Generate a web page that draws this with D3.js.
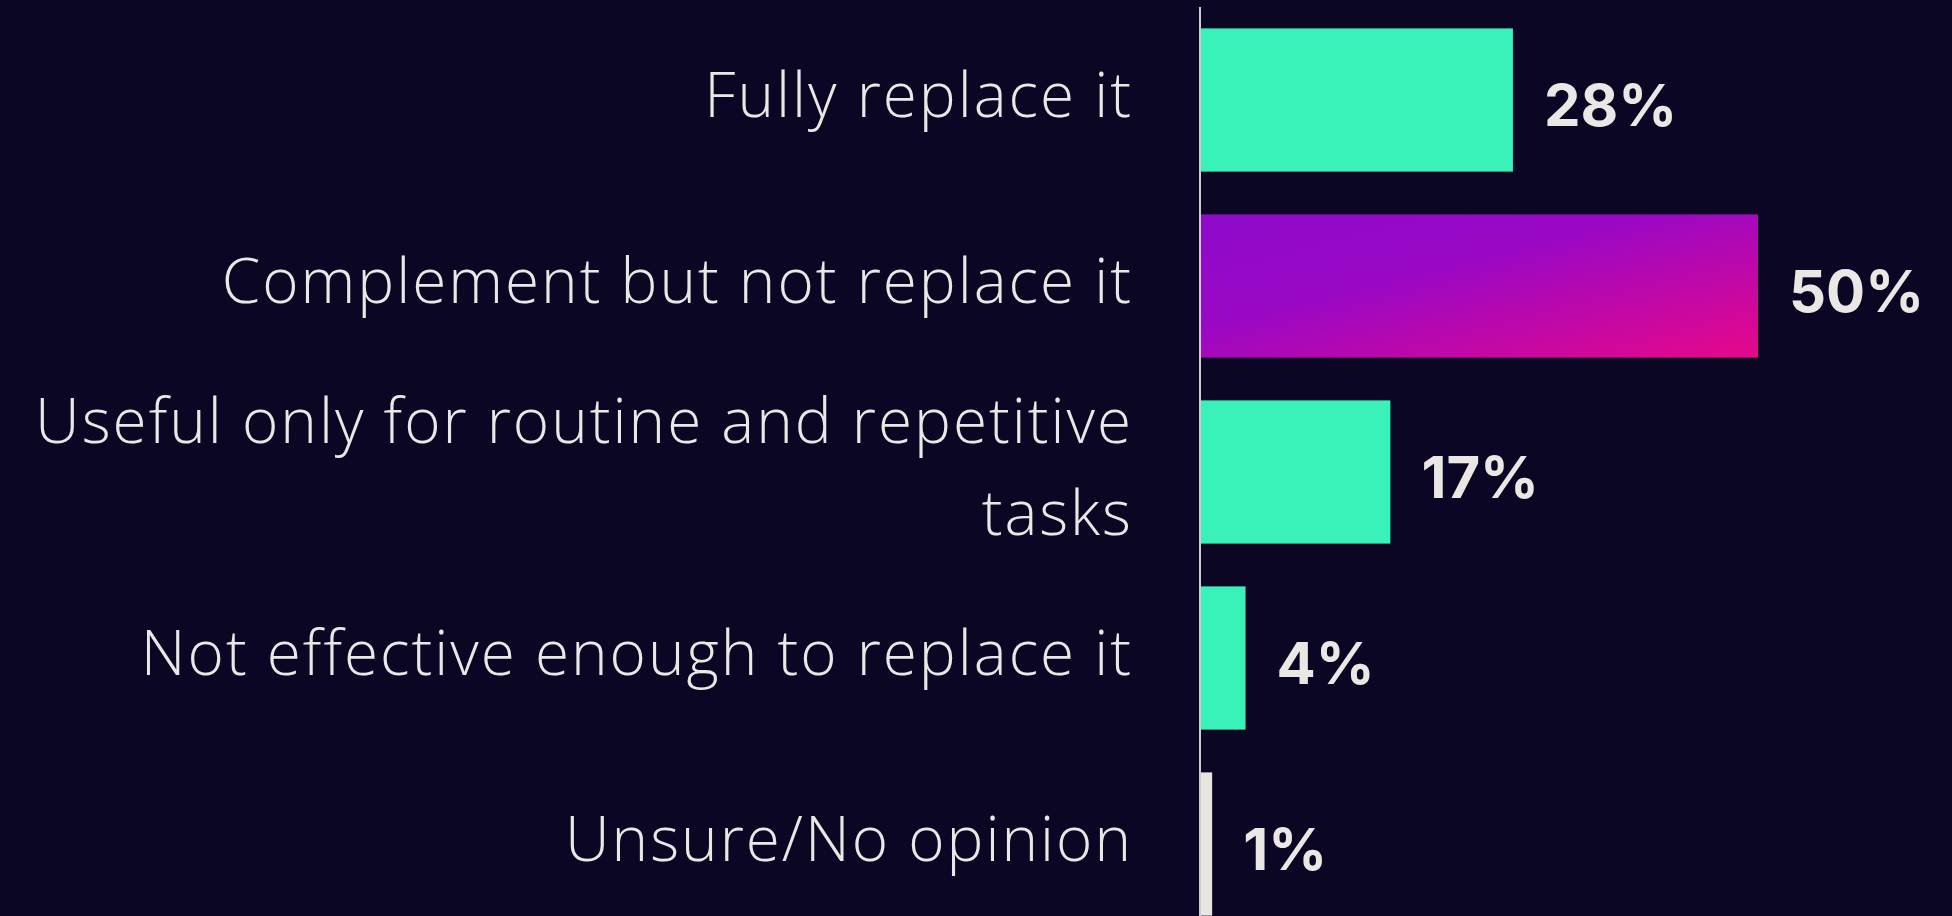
<!DOCTYPE html>
<html>
<head>
<meta charset="utf-8">
<script src="https://cdn.jsdelivr.net/npm/d3@7"></script>
<style>
  html, body { margin: 0; padding: 0; background: #0b0624; overflow: hidden; }
  #chart { width: 1952px; height: 916px; }
  .cat-label { font-family: "Open Sans", Lato, sans-serif; font-weight: 300; font-size: 62px; letter-spacing: 2px; fill: #ebe7e4; }
  .val-label { font-family: Inter, Roboto, sans-serif; font-weight: 700; font-size: 58px; fill: #ebe7e4; }
</style>
</head>
<body>
<div id="chart"></div>
<script>
// survey answers, top to bottom (\n marks a forced line break)
var categories = [
    'Fully replace it',
    'Complement but not replace it',
    'Useful only for routine and repetitive\ntasks',
    'Not effective enough to replace it',
    'Unsure/No opinion'
];
var values = [28, 50, 17, 4, 1];
var valueLabels = ['28%', '50%', '17%', '4%', '1%'];
var barKinds = ['teal', 'gradient', 'teal', 'teal', 'light'];

var width = 1952, height = 916;
var margin = {left: 1200};

var colors = {teal: '#38f2b9', gradient: 'url(#barGradient)', light: '#e9e5e0'};

var svg = d3.select('#chart')
    .append('svg')
    .attr('width', width)
    .attr('height', height);

svg.append('rect')
    .attr('width', width)
    .attr('height', height)
    .attr('fill', '#0b0624');

var defs = svg.append('defs');
var grad = defs.append('linearGradient')
    .attr('id', 'barGradient')
    .attr('x1', '0%').attr('y1', '0%')
    .attr('x2', '100%').attr('y2', '100%');
grad.append('stop').attr('offset', '0%').attr('stop-color', '#8e0ac9');
grad.append('stop').attr('offset', '40%').attr('stop-color', '#9a08c5');
grad.append('stop').attr('offset', '100%').attr('stop-color', '#e6088a');

var x = d3.scaleLinear()
    .domain([0, 50])
    .range([margin.left, 1757]);

var y = d3.scaleBand()
    .domain(d3.range(categories.length))
    .range([7, 937])
    .paddingInner(0.23)
    .paddingOuter(0.115);

// axis line
svg.append('line')
    .attr('x1', x(0)).attr('x2', x(0))
    .attr('y1', 7).attr('y2', height)
    .attr('stroke', '#cfcccc')
    .attr('stroke-width', 2);

svg.selectAll('rect.bar')
    .data(values)
    .enter().append('rect')
    .attr('class', 'bar')
    .attr('x', x(0) + 1)
    .attr('y', function(d, i) { return y(i); })
    .attr('width', function(d) { return x(d) - x(0); })
    .attr('height', y.bandwidth())
    .attr('fill', function(d, i) { return colors[barKinds[i]]; });

svg.selectAll('text.val-label')
    .data(values)
    .enter().append('text')
    .attr('class', 'val-label')
    .attr('x', function(d) { return x(d) + 32; })
    .attr('y', function(d, i) { return y(i) + y.bandwidth() / 2 + 26; })
    .text(function(d, i) { return valueLabels[i]; });

var lineGap = 92;
svg.selectAll('text.cat-label')
    .data(categories)
    .enter().append('text')
    .attr('class', 'cat-label')
    .attr('text-anchor', 'end')
    .each(function(d, i) {
        var lines = d.split('\n');
        var mid = y(i) + y.bandwidth() / 2 + 17;
        var first = mid - (lines.length - 1) * lineGap / 2;
        var t = d3.select(this);
        lines.forEach(function(line, j) {
            t.append('tspan')
                .attr('x', x(0) - 67)
                .attr('y', first + j * lineGap)
                .text(line);
        });
    });
</script>
</body>
</html>
